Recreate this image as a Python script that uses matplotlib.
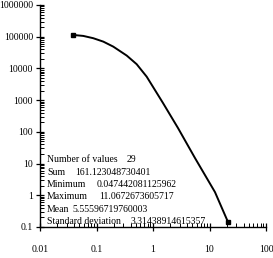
import matplotlib
matplotlib.use("Agg")
import matplotlib.pyplot as plt
from matplotlib.ticker import LogLocator, FixedLocator, FixedFormatter, NullFormatter

# ---- data ----
curve_x = [0.0379, 0.0583, 0.0877, 0.132, 0.198, 0.343, 0.514, 0.773,
           1.50, 2.77, 5.53, 12.5, 21.2]
curve_y = [114000, 106000, 89700, 70000, 48700, 25400, 13600, 5500,
           816, 132, 15, 1.26, 0.145]

stat_labels = ["Number of values", "Sum", "Minimum", "Maximum", "Mean", "Standard deviation"]
stat_values = ["29", "161.123048730401", "0.047442081125962", "11.0672673605717",
               "5.55596719760003", "3.31438914615357"]

x_ticks = [0.01, 0.1, 1, 10, 100]
x_tick_labels = ["0.01", "0.1", "1", "10", "100"]
y_ticks = [0.1, 1, 10, 100, 1000, 10000, 100000, 1000000]
y_tick_labels = ["0.1", "1", "10", "100", "1000", "10000", "100000", "1000000"]

W, H = 273, 258
fig = plt.figure(figsize=(W / 100, H / 100), dpi=100)
ax = fig.add_axes([40 / W, 1 - 227 / H, 226 / W, 222 / H])

serif = "Liberation Serif"
ax.plot(curve_x, curve_y, color="black", lw=1.4, solid_capstyle="round",
        solid_joinstyle="round")
ax.plot([curve_x[0], curve_x[-1]], [curve_y[0], curve_y[-1]], ls="none",
        marker="s", ms=2.6, color="black")

ax.set_xscale("log")
ax.set_yscale("log")
ax.set_xlim(0.01, 100)
ax.set_ylim(0.1, 1000000)

ax.xaxis.set_major_locator(FixedLocator(x_ticks))
ax.xaxis.set_major_formatter(FixedFormatter(x_tick_labels))
ax.yaxis.set_major_locator(FixedLocator(y_ticks))
ax.yaxis.set_major_formatter(FixedFormatter(y_tick_labels))
ax.xaxis.set_minor_locator(LogLocator(base=10, subs=range(2, 10), numticks=20))
ax.yaxis.set_minor_locator(LogLocator(base=10, subs=range(2, 10), numticks=20))
ax.xaxis.set_minor_formatter(NullFormatter())
ax.yaxis.set_minor_formatter(NullFormatter())

for s in ["top", "right"]:
    ax.spines[s].set_visible(False)
for s in ["left", "bottom"]:
    ax.spines[s].set_linewidth(1.0)

ax.tick_params(which="major", direction="inout", length=6, width=0.9, labelsize=7, pad=2)
ax.tick_params(which="minor", direction="in", length=3, width=0.7)
ax.tick_params(axis="x", which="major", pad=10)
for lab in ax.get_xticklabels() + ax.get_yticklabels():
    lab.set_fontfamily(serif)

# statistics block (pixel positions converted to figure coords)
row_y = [162, 175, 187, 199, 212, 224]
val_x = [127, 75, 97, 99, 72, 131]
for lab, val, py, vx in zip(stat_labels, stat_values, row_y, val_x):
    fig.text(47 / W, 1 - py / H, lab, fontsize=7, family=serif, va="baseline", ha="left")
    fig.text(vx / W, 1 - py / H, val, fontsize=7, family=serif, va="baseline", ha="left")

fig.savefig("out.png", dpi=100)
